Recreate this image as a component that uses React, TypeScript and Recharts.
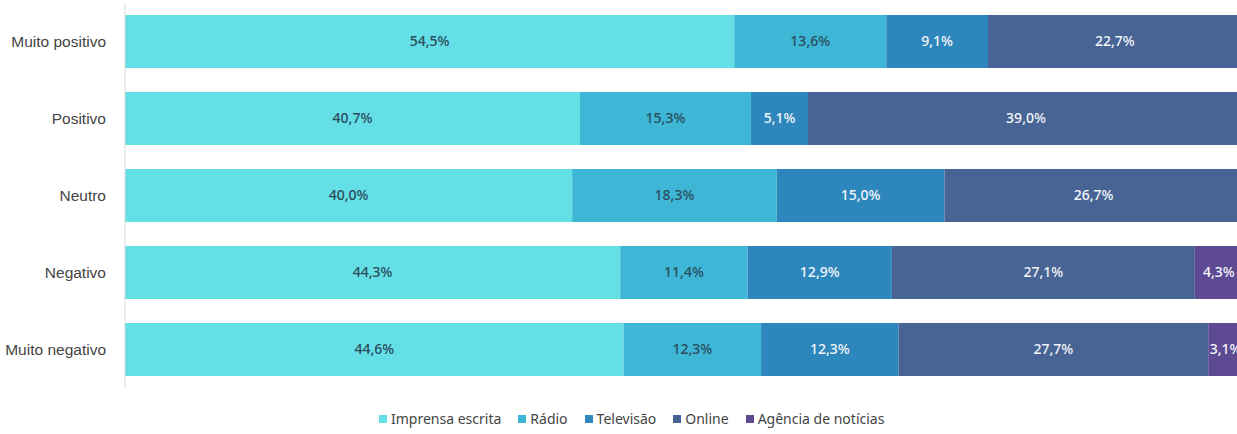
import React from 'react'
import { BarChart, Bar, XAxis, YAxis, Legend, LabelList } from 'recharts'

const categories = ['Muito positivo', 'Positivo', 'Neutro', 'Negativo', 'Muito negativo']
const imprensa = [54.5, 40.7, 40.0, 44.3, 44.6]
const radio = [13.6, 15.3, 18.3, 11.4, 12.3]
const televisao = [9.1, 5.1, 15.0, 12.9, 12.3]
const online = [22.7, 39.0, 26.7, 27.1, 27.7]
const agencia = [0, 0, 0, 4.3, 3.1]

const series = [
  { key: 'imprensa', name: 'Imprensa escrita', color: '#63dfe5', text: '#2b4b5c' },
  { key: 'radio', name: 'Rádio', color: '#3eb7d6', text: '#2b4b5c' },
  { key: 'televisao', name: 'Televisão', color: '#2e87bc', text: '#f4f6fa' },
  { key: 'online', name: 'Online', color: '#476494', text: '#f4f6fa' },
  { key: 'agencia', name: 'Agência de notícias', color: '#5e4a93', text: '#f4f6fa' },
]

const chartData = categories.map((name, i) => ({
  name,
  imprensa: imprensa[i],
  radio: radio[i],
  televisao: televisao[i],
  online: online[i],
  agencia: agencia[i],
}))

const fmt = (v: any) => (v ? `${Number(v).toFixed(1).replace('.', ',')}%` : '')

const LegendContent = () => (
  <div style={{ display: 'flex', gap: 17, fontFamily: 'Noto Sans', fontSize: 14, color: '#444' }}>
    {series.map((s) => (
      <div key={s.key} style={{ display: 'flex', alignItems: 'center' }}>
        <span style={{ width: 8, height: 8, background: s.color, marginRight: 4, display: 'inline-block' }} />
        {s.name}
      </div>
    ))}
  </div>
)

export default function App() {
  return (
    <div style={{ position: 'fixed', left: 0, top: 0, width: 1237, height: 434, overflow: 'hidden', background: '#fff' }}>
      <BarChart
        width={1244}
        height={434}
        data={chartData}
        layout="vertical"
        margin={{ top: 3, right: 0, bottom: 10, left: 0 }}
      >
        <XAxis type="number" domain={[0, 100]} hide />
        <YAxis
          type="category"
          dataKey="name"
          width={125}
          axisLine={{ stroke: '#d9d9d9' }}
          tickLine={false}
          tickMargin={13}
          tick={{ fontSize: 15.5, fill: '#444', fontFamily: 'Liberation Sans' }}
        />
        <Legend
          height={36}
          content={<LegendContent />}
          wrapperStyle={{ left: 379, top: 409, width: 600 }}
        />
        {series.map((s) => (
          <Bar key={s.key} dataKey={s.key} name={s.name} stackId="a" fill={s.color} barSize={53} isAnimationActive={false}>
            <LabelList
              dataKey={s.key}
              position="center"
              formatter={fmt}
              fill={s.text}
              style={{ fontSize: 14, fontFamily: 'Noto Sans', fontWeight: 500 }}
            />
          </Bar>
        ))}
      </BarChart>
    </div>
  )
}
